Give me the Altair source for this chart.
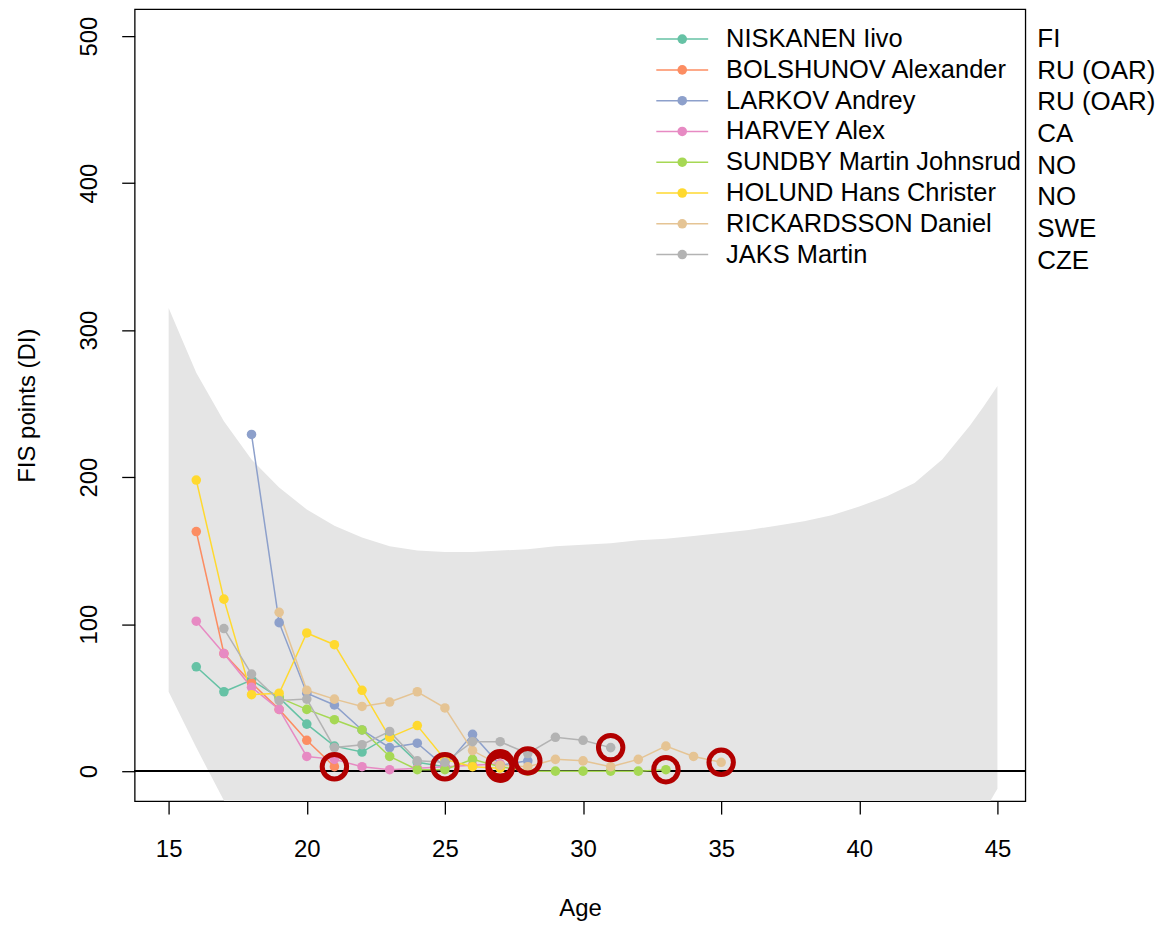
import altair as alt
import pandas as pd

# ---------------- data ----------------
names = ["NISKANEN Iivo", "BOLSHUNOV Alexander", "LARKOV Andrey", "HARVEY Alex",
         "SUNDBY Martin Johnsrud", "HOLUND Hans Christer", "RICKARDSSON Daniel", "JAKS Martin"]
countries = ["FI", "RU (OAR)", "RU (OAR)", "CA", "NO", "NO", "SWE", "CZE"]
colors = ["#66C2A5", "#FC8D62", "#8DA0CB", "#E78AC3", "#A6D854", "#FFD92F", "#E5C494", "#B3B3B3"]

niskanen_age = [16, 17, 18, 19, 20, 21, 22, 23, 24, 25]
niskanen_pts = [71, 54, 62, 50, 32, 17, 13, 24, 6, 3]

bolshunov_age = [16, 17, 18, 19, 20, 21]
bolshunov_pts = [163, 80, 60, 42, 21, 3]

larkov_age = [18, 19, 20, 21, 22, 23, 24, 25, 26, 27, 28]
larkov_pts = [229, 101, 53, 45, 28, 16, 19, 3, 25, 4, 7]

harvey_age = [16, 17, 18, 19, 20, 21, 22, 23, 24, 25, 26, 27]
harvey_pts = [102, 80, 57, 42, 10, 8, 3, 1, 2, 3, 4, 5]

sundby_age = [19, 20, 21, 22, 23, 24, 25, 26, 27, 28, 29, 30, 31, 32, 33]
sundby_pts = [50, 42, 35, 28, 10, 1, 1, 8, 3, 0, 0, 0, 0, 0, 1]

holund_age = [16, 17, 18, 19, 20, 21, 22, 23, 24, 25, 26, 27]
holund_pts = [198, 117, 52, 53, 94, 86, 55, 23, 31, 8, 3, 2]

rickardsson_age = [19, 20, 21, 22, 23, 24, 25, 26, 27, 28, 29, 30, 31, 32, 33, 34, 35]
rickardsson_pts = [108, 55, 49, 44, 47, 54, 43, 14, 4, 3, 8, 7, 3, 8, 17, 10, 6]

jaks_age = [17, 18, 19, 20, 21, 22, 23, 24, 25, 26, 27, 28, 29, 30, 31]
jaks_pts = [97, 66, 48, 49, 16, 18, 27, 7, 6, 20, 20, 12, 23, 21, 16]

band_age = [15, 15.5, 16, 17, 18, 19, 20, 21, 22, 23, 24, 25, 26, 27, 28, 29, 30,
            31, 32, 33, 34, 35, 36, 37, 38, 39, 40, 41, 42, 43, 44, 44.5, 45]
band_upper = [315, 293, 271, 238, 212, 193, 178, 167, 159, 153, 150, 149, 149, 150, 151, 153, 154,
              155, 157, 158, 160, 162, 164, 167, 170, 174, 180, 187, 196, 212, 235, 248, 262]
band_lower = [54, 35, 16, -20, -50, -70, -85, -95, -100, -105, -108, -110, -110, -110, -110, -110, -110,
              -110, -110, -110, -110, -108, -105, -100, -95, -90, -85, -78, -70, -60, -42, -28, -12]

x_ticks = [15, 20, 25, 30, 35, 40, 45]
y_ticks = [0, 100, 200, 300, 400, 500]

# ---------------- tables ----------------
series = [niskanen_age, bolshunov_age, larkov_age, harvey_age, sundby_age, holund_age, rickardsson_age, jaks_age]
values = [niskanen_pts, bolshunov_pts, larkov_pts, harvey_pts, sundby_pts, holund_pts, rickardsson_pts, jaks_pts]
rows = []
for i, (nm, ages, pts) in enumerate(zip(names, series, values)):
    for a, p in zip(ages, pts):
        rows.append({"name": nm, "age": a, "pts": p, "k": i})
df = pd.DataFrame(rows)
last = df.groupby("name", sort=False).tail(1)

band = pd.DataFrame({"age": band_age, "upper": band_upper, "lower": band_lower})
leg = pd.DataFrame({"name": names, "country": countries, "row": list(range(len(names)))})

FONT = "Liberation Sans"
W, H = 893, 794

xs = alt.Scale(domain=[13.77, 46.01], nice=False, zero=False)
ys = alt.Scale(domain=[-20.4, 518.3], nice=False, zero=False)
cs = alt.Scale(domain=names, range=colors)

x_axis = alt.Axis(values=x_ticks, title="Age", grid=False, domain=False, tickSize=13,
                  tickColor="black", tickWidth=1.3, labelFontSize=24, labelFont=FONT,
                  labelColor="black", labelPadding=24, labelFlush=False, labelOverlap=False,
                  titleFontSize=24, titleFont=FONT, titleFontWeight="normal", titleColor="black",
                  titleY=108, titleBaseline="middle")
y_axis = alt.Axis(values=y_ticks, title="FIS points (DI)", grid=False, domain=False, tickSize=13,
                  tickColor="black", tickWidth=1.3, labelFontSize=24, labelFont=FONT,
                  labelColor="black", labelPadding=20, labelAngle=270, labelAlign="center",
                  labelBaseline="bottom", labelFlush=False, labelOverlap=False,
                  titleFontSize=24, titleFont=FONT, titleFontWeight="normal", titleColor="black",
                  titleX=-107, titleAngle=270, titleBaseline="middle")

band_layer = alt.Chart(band).mark_area(color="#E5E5E5", opacity=1, clip=True).encode(
    x=alt.X("age:Q", scale=xs, axis=x_axis),
    y=alt.Y("upper:Q", scale=ys, axis=y_axis),
    y2="lower:Q",
)

zero_layer = alt.Chart(band).mark_rule(color="black", strokeWidth=1.4).encode(
    y=alt.datum(0, scale=ys)
)

line_layer = alt.Chart(df).mark_line(strokeWidth=1.5).encode(
    x=alt.X("age:Q", scale=xs),
    y=alt.Y("pts:Q", scale=ys),
    color=alt.Color("name:N", scale=cs, legend=None),
    detail="name:N",
    order="age:Q",
)

point_layer = alt.Chart(df).mark_circle(size=92, opacity=1).encode(
    x=alt.X("age:Q", scale=xs),
    y=alt.Y("pts:Q", scale=ys),
    color=alt.Color("name:N", scale=cs, legend=None),
)

ring_layer = alt.Chart(last).mark_point(shape="circle", size=600, strokeWidth=5,
                                        color="#B20000", filled=False, opacity=1).encode(
    x=alt.X("age:Q", scale=xs),
    y=alt.Y("pts:Q", scale=ys),
)

main = alt.layer(band_layer, zero_layer, line_layer, point_layer, ring_layer)

leg_y = alt.Y("row:Q", scale=alt.Scale(domain=[0, 7], range=[30, 246]), axis=None)
leg_rule = alt.Chart(leg).mark_rule(strokeWidth=1.5).encode(
    x=alt.value(523), x2=alt.value(575), y=leg_y,
    color=alt.Color("name:N", scale=cs, legend=None),
)
leg_pt = alt.Chart(leg).mark_circle(size=92, opacity=1).encode(
    x=alt.value(549), y=leg_y,
    color=alt.Color("name:N", scale=cs, legend=None),
)
leg_txt = alt.Chart(leg).mark_text(align="left", baseline="middle", fontSize=25.5,
                                   font=FONT, color="black").encode(
    x=alt.value(593), y=leg_y, text="name:N",
)
legend_layer = alt.layer(leg_rule, leg_pt, leg_txt)

cty_layer = alt.Chart(leg).mark_text(align="left", baseline="middle", fontSize=26,
                                     font=FONT, color="black").encode(
    x=alt.value(905),
    y=alt.Y("row:Q", scale=alt.Scale(domain=[0, 7], range=[30, 252]), axis=None),
    text="country:N",
)

chart = alt.layer(main, legend_layer, cty_layer).resolve_scale(y="independent").properties(
    width=W, height=H,
    autosize=alt.AutoSizeParams(type="none"),
    padding={"left": 127, "top": 0, "right": 130, "bottom": 122},
    background="white",
).configure_view(stroke="black", strokeWidth=1.3)

chart.save("out.html", embed_options={"renderer": "svg", "actions": False})
